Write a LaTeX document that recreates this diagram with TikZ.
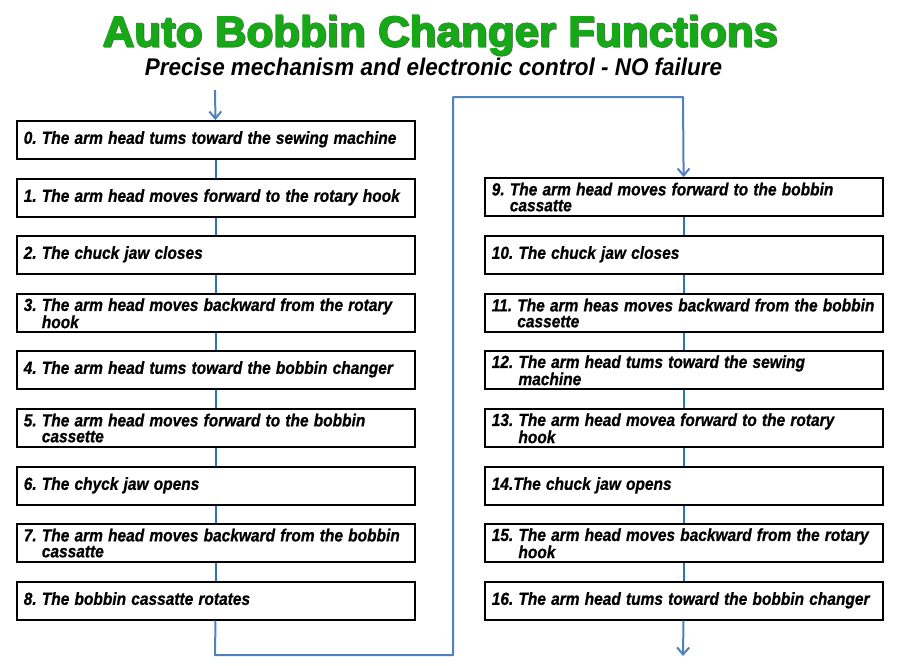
\documentclass[tikz,border=0pt]{standalone}
\usepackage{fontspec}
\setmainfont{Liberation Sans}
\newfontfamily\boxfont[WordSpace=0.8, BoldItalicFeatures={FakeBold=0.8}]{Liberation Sans}
\newfontfamily\titlefont[FakeBold=2.5]{Liberation Sans}
\usetikzlibrary{arrows.meta,shadows}
\definecolor{conn}{RGB}{46,117,182}
\definecolor{loopc}{RGB}{79,129,189}
\definecolor{ttl}{RGB}{22,168,22}
\definecolor{ttlshadow}{RGB}{40,90,40}
\newcommand\bx[1]{\scalebox{0.885}[1]{\begin{tabular}{@{}l@{}}#1\end{tabular}}}
\newcommand\twoline[3]{\raisebox{-2.5pt}[\height][\depth]{\bx{#1 #2\\\hphantom{#1 }#3}}}
\frenchspacing
\begin{document}
\begin{tikzpicture}[x=1pt,y=-1pt,
  stepbox/.style={draw=black, line width=1.5pt, fill=white, anchor=north west,
    minimum width=398pt, minimum height=38pt, text width=384pt, inner xsep=7pt,
    inner ysep=2pt, align=left,
    font=\boxfont\bfseries\itshape\fontsize{17.5}{15}\selectfont\frenchspacing,
    drop shadow={shadow xshift=1.2pt, shadow yshift=-1.2pt, fill=black!45, opacity=0.6}},
  connline/.style={draw=conn, line width=2.4pt},
  loopline/.style={draw=loopc, line width=2pt, line join=round},
  tip/.style={-{Straight Barb[length=7pt,width=12pt,line width=2pt]}}
]
\useasboundingbox (0,0) rectangle (900,665);
\fill[white] (0,0) rectangle (900,665);

% title
\node[anchor=base, text=ttlshadow, opacity=0.7] (tshadow) at (441,47)
  {\resizebox{675pt}{31pt}{\titlefont\bfseries Auto Bobbin Changer Functions}};
\node[anchor=base, text=ttl] (title) at (440,46)
  {\resizebox{675pt}{31pt}{\titlefont\bfseries Auto Bobbin Changer Functions}};
\node[anchor=base] (subtitle) at (433.5,75)
  {\resizebox{577pt}{17.5pt}{\bfseries\itshape Precise mechanism and electronic control - NO failure}};

% left column
\node[stepbox] (b0) at (16,120) {\bx{0. The arm head tums toward the sewing machine}};
\node[stepbox] (b1) at (16,178) {\bx{1. The arm head moves forward to the rotary hook}};
\node[stepbox] (b2) at (16,235) {\bx{2. The chuck jaw closes}};
\node[stepbox] (b3) at (16,293) {\twoline{3.}{The arm head moves backward from the rotary}{hook}};
\node[stepbox] (b4) at (16,350) {\bx{4. The arm head tums toward the bobbin changer}};
\node[stepbox] (b5) at (16,408) {\twoline{5.}{The arm head moves forward to the bobbin}{cassette}};
\node[stepbox] (b6) at (16,466) {\bx{6. The chyck jaw opens}};
\node[stepbox] (b7) at (16,523) {\twoline{7.}{The arm head moves backward from the bobbin}{cassatte}};
\node[stepbox] (b8) at (16,581) {\bx{8. The bobbin cassatte rotates}};

% right column
\node[stepbox] (b9) at (484,177) {\twoline{9.}{The arm head moves forward to the bobbin}{cassatte}};
\node[stepbox] (b10) at (484,235) {\bx{10. The chuck jaw closes}};
\node[stepbox] (b11) at (484,293) {\twoline{11.}{The arm heas moves backward from the bobbin}{cassette}};
\node[stepbox] (b12) at (484,350) {\twoline{12.}{The arm head tums toward the sewing}{machine}};
\node[stepbox] (b13) at (484,408) {\twoline{13.}{The arm head movea forward to the rotary}{hook}};
\node[stepbox] (b14) at (484,466) {\bx{14.The chuck jaw opens}};
\node[stepbox] (b15) at (484,523) {\twoline{15.}{The arm head moves backward from the rotary}{hook}};
\node[stepbox] (b16) at (484,581) {\bx{16. The arm head tums toward the bobbin changer}};

% short connectors
\foreach \a/\b in {b0/b1,b1/b2,b2/b3,b3/b4,b4/b5,b5/b6,b6/b7,b7/b8,
                   b9/b10,b10/b11,b11/b12,b12/b13,b13/b14,b14/b15,b15/b16}
  \draw[connline] (\a) -- (\b);

% start, loop and end
\coordinate (start) at (215,90);
\coordinate (l1) at (215,655);
\coordinate (l2) at (453,655);
\coordinate (l3) at (453,97);
\coordinate (l4) at (683,97);
\coordinate (finish) at (683,656);
\draw[loopline, tip] (start) -- (b0);
\draw[loopline, tip] (b8) -- (l1) -- (l2) -- (l3) -- (l4) -- (b9);
\draw[loopline, tip] (b16) -- (finish);
\end{tikzpicture}
\end{document}
